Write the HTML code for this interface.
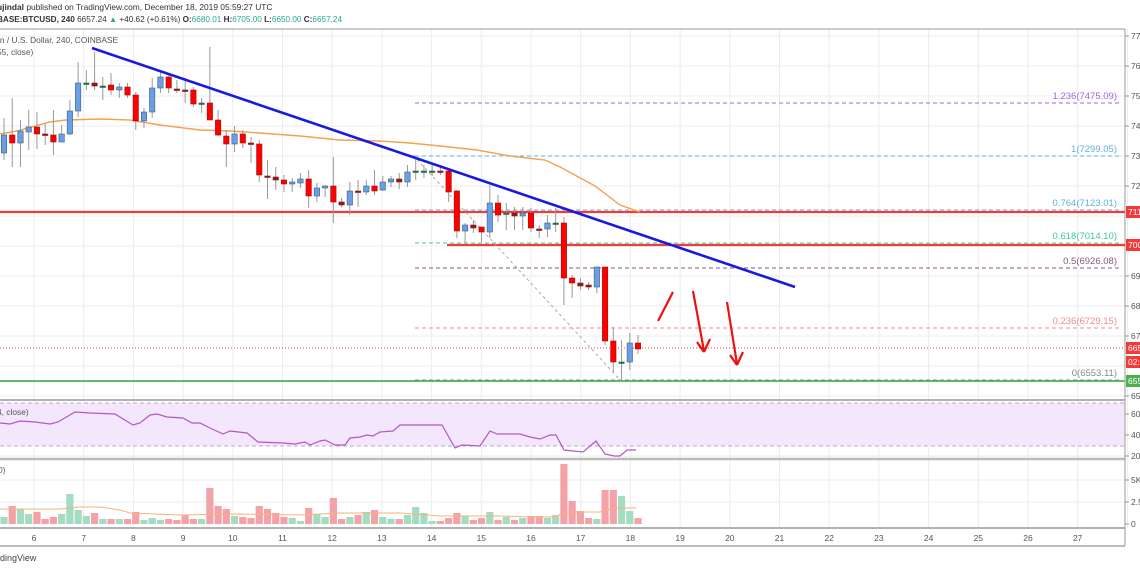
<!DOCTYPE html>
<html><head><meta charset="utf-8"><style>
html,body{margin:0;padding:0;background:#fff;width:1140px;height:570px;overflow:hidden;font-family:"Liberation Sans",sans-serif}
svg{position:absolute;left:0;top:0}
</style></head><body>
<svg id="s" width="1140" height="570" xmlns="http://www.w3.org/2000/svg" font-family="Liberation Sans, sans-serif">
<text x="-3" y="10" font-size="8.4" fill="#333"><tspan font-weight="bold">ujindal</tspan> published on TradingView.com, December 18, 2019 05:59:27 UTC</text>
<text x="-3" y="22" font-size="8.2" fill="#333"><tspan font-weight="bold">BASE:BTCUSD, 240</tspan> 6657.24 <tspan fill="#26a69a">▲</tspan> +40.62 (+0.61%) <tspan font-weight="bold">O:</tspan><tspan fill="#26a69a">6680.01</tspan> <tspan font-weight="bold">H:</tspan><tspan fill="#26a69a">6705.00</tspan> <tspan font-weight="bold">L:</tspan><tspan fill="#26a69a">6650.00</tspan> <tspan font-weight="bold">C:</tspan><tspan fill="#26a69a">6657.24</tspan></text>
<g id="g"></g>
</svg>
<script>
const g=document.getElementById('g');let h='';
function L(x1,y1,x2,y2,c,w,d){h+=`<line x1="${x1}" y1="${y1}" x2="${x2}" y2="${y2}" stroke="${c}" stroke-width="${w||1}"${d?` stroke-dasharray="${d}"`:''}/>`;}
function T(x,y,t,c,s,a){h+=`<text x="${x}" y="${y}" font-size="${s||10}" fill="${c}"${a?` text-anchor="${a}"`:''}>${t}</text>`;}
function P(pts,c,w){h+=`<polyline fill="none" stroke="${c}" stroke-width="${w||1}" points="${pts.map(p=>p.join(',')).join(' ')}"/>`;}
for(let d=6;d<=28;d++){const x=34+(d-6)*49.7;L(x,29,x,528,'#ececec');}
for(let i=0;i<13;i++){L(0,36+i*30,1125,36+i*30,'#ececec');}
h+=`<rect x="0" y="403" width="1125" height="43" fill="#f3e6fd"/>`;
L(0,403,1125,403,'#b9a8c8',1,'4,3');L(0,446,1125,446,'#b9a8c8',1,'4,3');
[414,435,456].forEach(y=>L(0,y,1125,y,'#eee'));
[480,502].forEach(y=>L(0,y,1125,y,'#eee'));
L(0,29,1125,29,'#999');L(0,400,1125,400,'#999',1.5);L(0,459,1125,459,'#bbb',2.5);L(0,528,1125,528,'#999',1.5);L(0,546,1125,546,'#bbb',2);L(1125,29,1125,546,'#999');
const pl=[[36,'7700.00'],[66,'7600.00'],[96,'7500.00'],[126,'7400.00'],[156,'7300.00'],[186,'7200.00'],[276,'6900.00'],[306,'6800.00'],[336,'6700.00'],[396,'6500.00']];
pl.forEach(([y,t])=>{L(1125,y,1129,y,'#999');T(1131,y+3,t,'#555',8.5);});
[[414,'60.00'],[435,'40.00'],[456,'20.00'],[480,'5K'],[502,'2.5K'],[524,'0']].forEach(([y,t])=>{L(1125,y,1129,y,'#999');T(1131,y+3,t,'#555',8.5);});
for(let d=6;d<=27;d++){T(34+(d-6)*49.7,541,d,'#555',8.5,'middle');}
const fib=[[103,'#9c6ade','1.236(7475.09)'],[156,'#5fb2e0','1(7299.05)'],[210,'#5fb2e0','0.764(7123.01)'],[243,'#3fc89a','0.618(7014.10)'],[268,'#8a5a78','0.5(6926.08)'],[328,'#f08a8a','0.236(6729.15)'],[380,'#888','0(6553.11)']];
fib.forEach(([y,c,t])=>{L(415,y,1120,y,c,1,'4,3');T(1117,y-4,t,c,9.5,'end');});
L(0,212,1125,212,'#f23a3a',2.2);L(447,245,1125,245,'#f23a3a',2.2);L(0,381,1125,381,'#4caf50',1.8);
L(0,348,1125,348,'#f23a3a',1,'1,2');
L(413,155,621,381,'#aaa',1,'3,3');
P([[0,134],[17,131],[50,122],[66,120],[100,119],[130,120],[160,125],[200,130],[230,131],[260,133],[300,136],[340,140],[380,141],[410,143],[440,146],[477,150],[510,156],[545,160],[560,167],[595,186],[620,205],[640,212]],'#f5a050',1.4);
const C=[[135,153,118,160,'b'],[135,143,98,167,'r'],[131,143,120,167,'b'],[127,132,110,150,'b'],[127,134,112,149,'r'],[134,135,123,145,'r'],[135,142,110,155,'r'],[134,142,125,142,'b'],[111,134,100,135,'b'],[83,111,62,117,'b'],[83,84,70,90,'g'],[83,86,52,90,'r'],[86,87,77,100,'g'],[85,90,73,95,'r'],[87,90,83,98,'b'],[87,95,83,98,'r'],[95,121,92,130,'r'],[112,121,108,128,'b'],[88,112,78,118,'b'],[77,88,70,93,'b'],[77,88,73,93,'r'],[89,90,80,93,'r'],[90,91,78,103,'r'],[90,104,87,107,'r'],[103,104,98,113,'g'],[103,120,47,120,'r'],[120,135,110,136,'r'],[136,144,130,167,'r'],[134,144,126,152,'b'],[134,143,130,148,'r'],[143,144,137,163,'r'],[144,175,140,182,'r'],[176,177,160,199,'r'],[177,180,167,190,'r'],[180,184,175,192,'r'],[182,184,178,192,'b'],[179,183,173,188,'b'],[179,196,170,208,'r'],[188,196,183,202,'b'],[186,188,185,197,'b'],[186,202,157,223,'r'],[202,205,198,207,'r'],[191,205,182,215,'b'],[191,192,180,207,'r'],[186,192,180,195,'b'],[186,191,170,195,'r'],[182,190,176,191,'b'],[179,182,176,187,'b'],[179,182,173,189,'r'],[172,182,165,187,'b'],[171,172,158,180,'g'],[171,172,165,178,'g'],[171,172,165,176,'g'],[171,172,165,175,'r'],[171,192,170,202,'r'],[191,231,190,238,'r'],[225,231,223,243,'b'],[225,228,220,233,'r'],[227,232,227,242,'r'],[203,232,185,238,'b'],[203,215,195,222,'r'],[213,214,203,230,'g'],[213,216,207,230,'r'],[213,216,207,230,'b'],[213,228,208,232,'r'],[229,230,225,238,'r'],[223,229,215,237,'b'],[223,224,208,232,'g'],[223,278,217,305,'r'],[278,283,275,298,'r'],[283,286,278,290,'r'],[285,287,282,290,'r'],[267,287,267,293,'b'],[267,341,267,345,'r'],[341,362,327,372,'r'],[362,363,340,381,'g'],[343,362,333,370,'b'],[343,349,335,354,'r']];
const V=[517,506,509,514,512,519,517,514,494,510,516,513,519,519,519,519,512,520,518,520,519,520,515,519,519,488,506,509,516,517,518,506,509,513,517,518,521,508,514,517,498,519,517,515,512,510,517,519,519,515,507,513,521,521,518,513,516,520,518,512,520,517,520,518,516,516,518,515,464,501,511,518,519,490,490,496,511,518];
C.forEach((c,i)=>{const x=4+i*8.234;L(x,c[2],x,c[3],'#999');
 let f,s;if(c[4]=='b'){f='#6a9fe3';s='#3b5f7e';}else if(c[4]=='r'){f='#ff0000';s='#a01010';}else{f='#2e6b45';s='#2e6b45';}
 if(c[4]=='r'&&c[1]-c[0]<=3){f='#8b1a1a';s='#8b1a1a';}
 h+=`<rect x="${x-2.7}" y="${c[0]}" width="5.4" height="${Math.max(c[1]-c[0],1.5)}" fill="${f}" stroke="${s}" stroke-width="0.6"/>`;
 const vc=(c[4]=='r')?'#f4a2a8':'#a3dcc1';h+=`<rect x="${x-3.6}" y="${V[i]}" width="7.2" height="${524-V[i]}" fill="${vc}"/>`;});
P([[0,509],[60,509],[80,507],[100,507],[120,510],[130,513],[180,515],[240,514],[300,515],[340,513],[400,513],[440,516],[500,516],[530,517],[555,517],[565,512],[600,512],[615,508],[636,508]],'#f7b27a',1);
P([[0,423],[10,424],[20,421],[35,422],[50,424],[58,422],[75,412],[90,413],[115,414],[133,425],[140,423],[150,415],[157,414],[167,417],[183,418],[192,423],[200,423],[210,428],[223,434],[230,431],[247,433],[258,442],[283,443],[295,444],[305,442],[310,445],[320,441],[325,440],[335,445],[345,445],[350,438],[360,437],[367,435],[373,436],[380,432],[393,431],[400,425],[442,425],[455,448],[462,445],[480,446],[490,431],[497,434],[520,434],[530,437],[540,439],[550,435],[556,435],[564,450],[583,452],[596,441],[605,454],[614,456],[620,456],[627,450],[636,450]],'#b357c8',1.2);
L(92,48,795,287,'#1a1adf',2.6);
L(658,321,673,292,'#ee1111',2.2);
L(693,291,704,351,'#ee1111',2.2);L(697,342,704,352,'#ee1111',2.2);L(710,339,704,352,'#ee1111',2.2);
L(727,302,737,364,'#ee1111',2.2);L(730,355,737,365,'#ee1111',2.2);L(743,352,737,365,'#ee1111',2.2);
function tag(y,c,t){h+=`<rect x="1126" y="${y-6}" width="14" height="12" fill="${c}"/>`;T(1128,y+3,t,'#fff',8.5);}
tag(212,'#f23a3a','7110.00');tag(245,'#f23a3a','7000.00');tag(348,'#f23a3a','6657.24');tag(362,'#f23a3a','02:00:32');tag(381,'#4caf50','6553.11');
T(-2,43,'in / U.S. Dollar, 240, COINBASE','#555',8.4);
T(-3,55,'55, close)','#555',8.4);
T(-3,415,'4, close)','#555',8.4);
T(-2,473,'0)','#555',8.4);
T(-5,561,'adingView','#444',9);
g.innerHTML=h;
</script>
</body></html>
